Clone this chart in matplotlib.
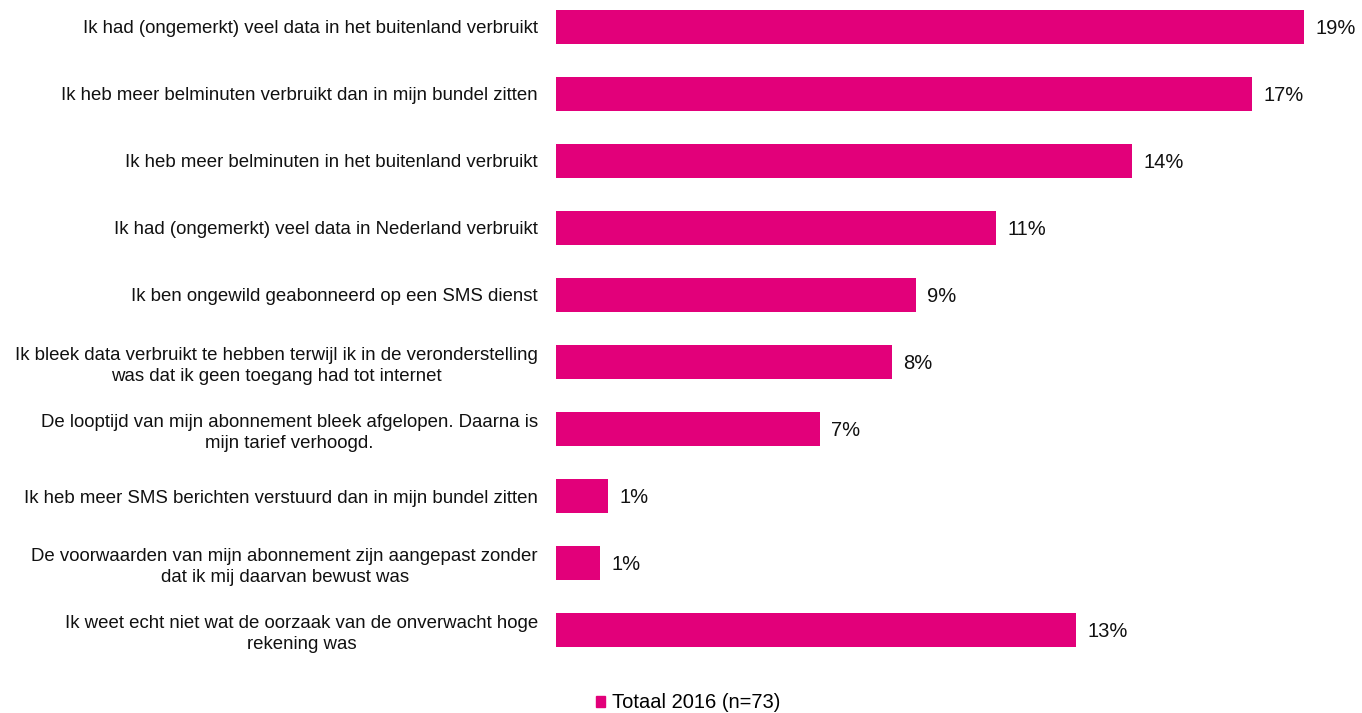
import matplotlib
matplotlib.use("Agg")
import matplotlib.pyplot as plt
from matplotlib.patches import Patch

plt.rcParams['font.family'] = ['Liberation Sans', 'DejaVu Sans']

oorzaken = [
    'Ik had (ongemerkt) veel data in het buitenland verbruikt',
    'Ik heb meer belminuten verbruikt dan in mijn bundel zitten',
    'Ik heb meer belminuten in het buitenland verbruikt',
    'Ik had (ongemerkt) veel data in Nederland verbruikt',
    'Ik ben ongewild geabonneerd op een SMS dienst',
    'Ik bleek data verbruikt te hebben terwijl ik in de veronderstelling\nwas dat ik geen toegang had tot internet',
    'De looptijd van mijn abonnement bleek afgelopen. Daarna is\nmijn tarief verhoogd.',
    'Ik heb meer SMS berichten verstuurd dan in mijn bundel zitten',
    'De voorwaarden van mijn abonnement zijn aangepast zonder\ndat ik mij daarvan bewust was',
    'Ik weet echt niet wat de oorzaak van de onverwacht hoge\nrekening was',
]
totaal_2016 = [18.7, 17.4, 14.4, 11.0, 9.0, 8.4, 6.6, 1.3, 1.1, 13.0]
reeks = 'Totaal 2016 (n=73)'
kleur = '#E2007A'

W, H = 1362, 713
fig = plt.figure(figsize=(W / 100, H / 100), dpi=100)
ax = fig.add_axes([556 / W, 1 - 647 / H, 790 / W, 637 / H])

pos = list(range(len(oorzaken)))
ax.barh(pos, totaal_2016, height=0.5, color=kleur)
ax.set_ylim(9.25, -0.25)
ax.set_xlim(0, 19.75)

for y, v in zip(pos, totaal_2016):
    ax.annotate(f'{v:.0f}%', (v, y), xytext=(8, -1), textcoords='offset points',
                ha='left', va='center', fontsize=14.5, color='#111111')

ax.set_yticks(pos)
ax.set_yticklabels(oorzaken, fontsize=13.4, color='#111111',
                   multialignment='center', linespacing=1.3)
ax.tick_params(axis='y', length=0, pad=13)
ax.set_xticks([])
for s in ax.spines.values():
    s.set_visible(False)

fig.legend(handles=[Patch(color=kleur, label=reeks)], loc='center',
           bbox_to_anchor=(688 / W, 1 - 703 / H), frameon=False, fontsize=14.5,
           handlelength=0.45, handleheight=0.45, handletextpad=0.35)

fig.savefig('out.png', dpi=100)
